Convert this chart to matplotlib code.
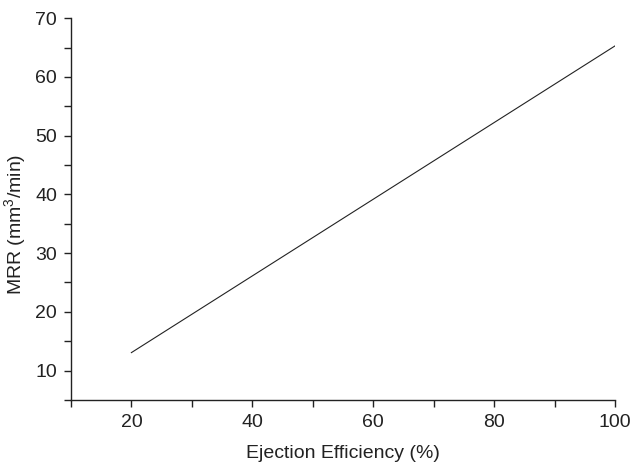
import matplotlib
matplotlib.use('Agg')
import matplotlib.pyplot as plt
from matplotlib.ticker import MultipleLocator

# ejection efficiency (%) vs material removal rate (mm^3/min)
efficiency = [20, 100]
mrr = [13.05, 65.3]

plt.rcParams['font.family'] = 'Liberation Sans'
plt.rcParams['font.size'] = 14
plt.rcParams['mathtext.default'] = 'regular'

fig = plt.figure(figsize=(6.33, 4.65), dpi=100)
ax = fig.add_axes([0.112, 0.140, 0.860, 0.821])

ax.plot(efficiency, mrr, color='#222222', lw=0.8)

ax.set_xlim(10, 100)
ax.set_ylim(5, 70)
ax.xaxis.set_major_locator(MultipleLocator(20))
ax.xaxis.set_minor_locator(MultipleLocator(10))
ax.yaxis.set_major_locator(MultipleLocator(10))
ax.yaxis.set_minor_locator(MultipleLocator(5))
ax.tick_params(which='both', direction='out', length=5, width=1, color='#222222')
ax.tick_params(which='major', pad=5, labelcolor='#222222')

for side in ('top', 'right'):
    ax.spines[side].set_visible(False)
for side in ('left', 'bottom'):
    ax.spines[side].set_color('#222222')
    ax.spines[side].set_linewidth(1)

ax.set_xlabel('Ejection Efficiency (%)', color='#222222', labelpad=10)
ax.set_ylabel('MRR (mm$^3$/min)', color='#222222')
ax.yaxis.set_label_coords(-0.078, 0.46)

fig.savefig('out.png', dpi=100)
